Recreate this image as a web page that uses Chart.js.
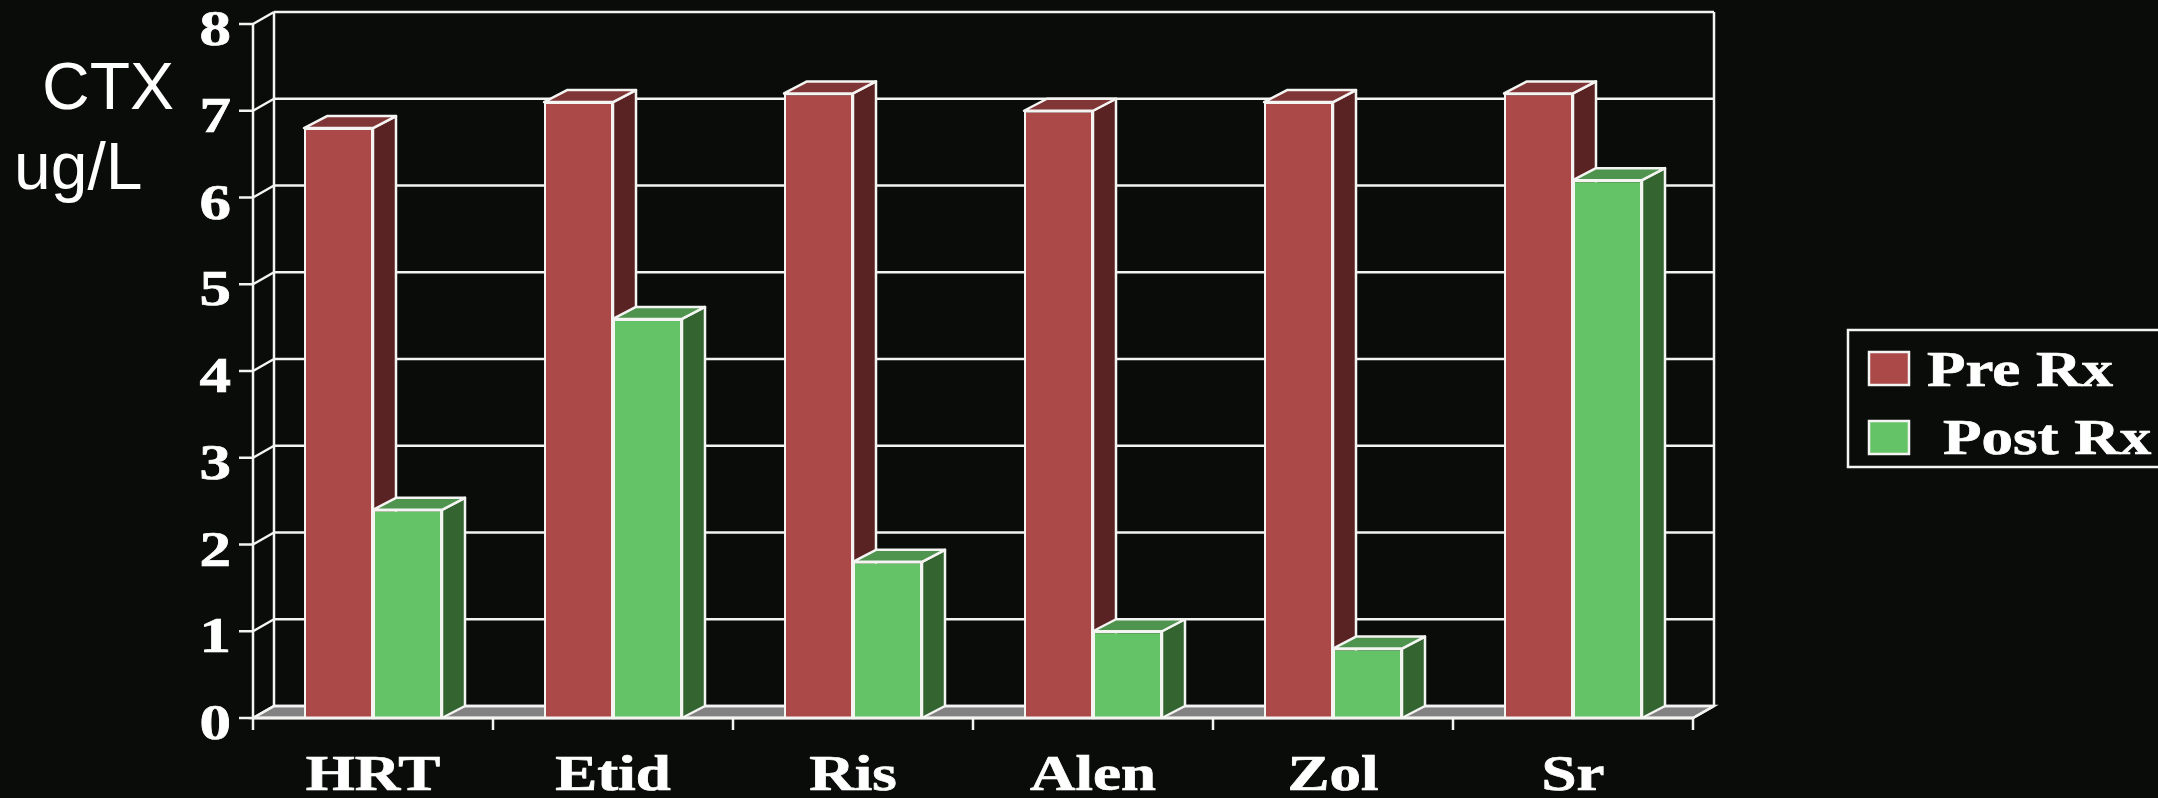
<!DOCTYPE html>
<html>
<head>
<meta charset="utf-8">
<style>
  html, body { margin: 0; padding: 0; background: #0a0c09; }
  #wrap { width: 2158px; height: 798px; }
</style>
<script src="https://cdn.jsdelivr.net/npm/chart.js@4"></script>
</head>
<body>
<div id="wrap"><canvas id="chart" width="2158" height="798"></canvas></div>
<script>
const categories = ['HRT', 'Etid', 'Ris', 'Alen', 'Zol', 'Sr'];
const preRx = [6.8, 7.1, 7.2, 7.0, 7.1, 7.2];
const postRx = [2.4, 4.6, 1.8, 1.0, 0.8, 6.2];
const yTicks = [0, 1, 2, 3, 4, 5, 6, 7, 8];
const unitLines = ['CTX', 'ug/L'];

const INK = '#f4f4f2';
const SERIF = '"Liberation Serif", serif';
const SANS = '"Liberation Sans", sans-serif';
const DEPTH_X = 21;
const DEPTH_Y = 12;
const TEXT_STRETCH = 1.26;

const palette = {
  pre: { front: '#ab4949', side: '#5a2323', top: '#803636' },
  post: { front: '#64c366', side: '#346531', top: '#4e944e' }
};

// Serif labels are set wider than the font's natural proportions.
function wideText(ctx, text, x, y, align) {
  ctx.save();
  ctx.font = 'bold 50px ' + SERIF;
  ctx.fillStyle = '#ffffff';
  ctx.strokeStyle = '#ffffff';
  ctx.lineWidth = 0.7;
  ctx.textAlign = align;
  ctx.textBaseline = 'alphabetic';
  ctx.translate(x, y);
  ctx.scale(TEXT_STRETCH, 1);
  ctx.fillText(text, 0, 0);
  ctx.strokeText(text, 0, 0);
  ctx.restore();
}

function segment(ctx, x1, y1, x2, y2) {
  ctx.beginPath();
  ctx.moveTo(x1, y1);
  ctx.lineTo(x2, y2);
  ctx.stroke();
}

function polygon(ctx, pts, fill) {
  ctx.beginPath();
  pts.forEach((p, i) => (i ? ctx.lineTo(p[0], p[1]) : ctx.moveTo(p[0], p[1])));
  ctx.closePath();
  ctx.fillStyle = fill;
  ctx.fill();
  ctx.stroke();
}

const boxPlugin = {
  id: 'box',
  // Floor, walls, gridlines and axis ticks, then the side and top faces of
  // every bar; the front rectangles drawn by the bar elements cover their edges.
  beforeDatasetsDraw(chart) {
    const { ctx, chartArea: a, scales: { y } } = chart;
    ctx.save();
    ctx.strokeStyle = INK;
    ctx.lineWidth = 2.5;
    polygon(ctx, [[a.left, a.bottom], [a.right, a.bottom],
      [a.right + DEPTH_X, a.bottom - DEPTH_Y], [a.left + DEPTH_X, a.bottom - DEPTH_Y]], '#828282');
    yTicks.forEach(v => {
      const py = y.getPixelForValue(v);
      segment(ctx, a.left - 14, py, a.left, py);
      segment(ctx, a.left, py, a.left + DEPTH_X, py - DEPTH_Y);
      segment(ctx, a.left + DEPTH_X, py - DEPTH_Y, a.right + DEPTH_X, py - DEPTH_Y);
    });
    segment(ctx, a.left, a.top, a.left, a.bottom);
    segment(ctx, a.left + DEPTH_X, a.top - DEPTH_Y, a.left + DEPTH_X, a.bottom - DEPTH_Y);
    segment(ctx, a.right + DEPTH_X, a.top - DEPTH_Y, a.right + DEPTH_X, a.bottom - DEPTH_Y);
    segment(ctx, a.right, a.bottom, a.right + DEPTH_X, a.bottom - DEPTH_Y);
    const step = (a.right - a.left) / categories.length;
    for (let i = 0; i <= categories.length; i++) {
      const px = a.left + step * i;
      segment(ctx, px, a.bottom, px, a.bottom + 12);
    }

    ctx.lineWidth = 2.5;
    ctx.lineJoin = 'round';
    chart.data.datasets.forEach((ds, index) => {
      chart.getDatasetMeta(index).data.forEach(bar => {
        const { x: cx, y: top, base, width } = bar.getProps(['x', 'y', 'base', 'width']);
        const l = cx - width / 2;
        const r = cx + width / 2;
        const dx = DEPTH_X + 2;
        polygon(ctx, [[r, top], [r + dx, top - DEPTH_Y], [r + dx, base - DEPTH_Y], [r, base]], ds.faces.side);
        polygon(ctx, [[l, top], [l + dx, top - DEPTH_Y], [r + dx, top - DEPTH_Y], [r, top]], ds.faces.top);
      });
    });
    ctx.restore();
  },
  afterDraw(chart) {
    const { ctx, chartArea: a, scales: { x, y } } = chart;
    ctx.save();
    ctx.strokeStyle = INK;
    ctx.lineWidth = 3;
    segment(ctx, a.left, a.bottom, a.right, a.bottom);
    ctx.restore();

    yTicks.forEach(v => wideText(ctx, String(v), 231, y.getPixelForValue(v) + 21, 'right'));
    categories.forEach((c, i) => wideText(ctx, c, x.getPixelForValue(i), 790, 'center'));

    ctx.save();
    ctx.font = '66px ' + SANS;
    ctx.fillStyle = '#ffffff';
    ctx.textAlign = 'left';
    ctx.fillText(unitLines[0], 42, 109);
    ctx.fillText(unitLines[1], 14, 189);
    ctx.restore();

    // Legend panel runs off the right edge of the page.
    ctx.save();
    ctx.strokeStyle = INK;
    ctx.lineWidth = 2.5;
    ctx.strokeRect(1848, 330, 330, 137);
    chart.data.datasets.forEach((ds, i) => {
      const top = i === 0 ? 352 : 421;
      ctx.fillStyle = ds.backgroundColor;
      ctx.fillRect(1869, top, 40, 33);
      ctx.strokeRect(1869, top, 40, 33);
      wideText(ctx, ds.label, i === 0 ? 1927 : 1943, i === 0 ? 386 : 454, 'left');
    });
    ctx.restore();
  }
};

new Chart(document.getElementById('chart'), {
  type: 'bar',
  data: {
    labels: categories,
    datasets: [
      { label: 'Pre Rx', data: preRx, backgroundColor: palette.pre.front, faces: palette.pre,
        borderColor: INK, borderWidth: 2 },
      { label: 'Post Rx', data: postRx, backgroundColor: palette.post.front, faces: palette.post,
        borderColor: INK, borderWidth: 2 }
    ]
  },
  options: {
    responsive: false,
    animation: false,
    layout: { padding: { top: 24, right: 465, left: 0, bottom: 0 } },
    datasets: { bar: { categoryPercentage: 0.575, barPercentage: 1 } },
    plugins: { legend: { display: false }, tooltip: { enabled: false } },
    scales: {
      x: {
        grid: { display: false },
        border: { display: false },
        ticks: { display: false },
        afterFit(scale) { scale.height = 80; }
      },
      y: {
        min: 0,
        max: 8,
        grid: { display: false },
        border: { display: false },
        ticks: { display: false, stepSize: 1 },
        afterFit(scale) { scale.width = 253; }
      }
    }
  },
  plugins: [boxPlugin]
});
</script>
</body>
</html>
